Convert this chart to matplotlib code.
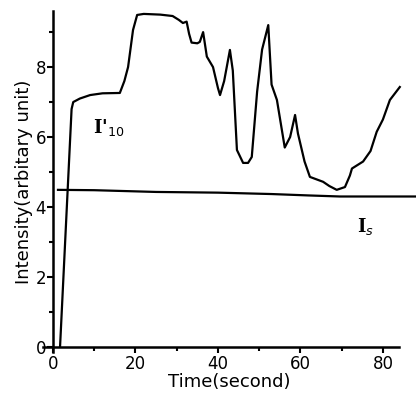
import matplotlib
matplotlib.use("Agg")
import matplotlib.pyplot as plt
from matplotlib.ticker import MultipleLocator

# I'10 curve (time in s, intensity in arbitrary unit)
t_i10 = [1.7, 4.5, 4.9, 6.5, 9.0, 12.0, 16.2, 17.3, 18.2, 19.4, 20.4, 22.0,
         26.0, 29.0, 30.5, 31.5, 32.4, 33.0, 33.6, 35.0, 35.6, 36.4, 37.3, 38.8,
         40.0, 40.5, 41.5, 42.9, 43.6, 44.6, 46.1, 47.3, 48.2, 49.5, 50.7, 52.2,
         53.0, 54.3, 56.2, 57.5, 58.7, 59.4, 61.0, 62.3, 65.5, 67.0, 68.8, 70.8,
         72.0, 72.5, 75.2, 77.0, 78.5, 80.0, 81.7, 84.1]
i10 = [0.0, 6.8, 7.0, 7.1, 7.2, 7.25, 7.26, 7.6, 8.0, 9.06, 9.49, 9.52,
       9.5, 9.46, 9.35, 9.26, 9.3, 8.95, 8.7, 8.68, 8.72, 9.0, 8.3, 8.0,
       7.4, 7.2, 7.6, 8.49, 7.9, 5.63, 5.26, 5.26, 5.43, 7.3, 8.5, 9.2,
       7.5, 7.06, 5.7, 6.0, 6.63, 6.1, 5.3, 4.86, 4.72, 4.6, 4.49, 4.57,
       4.9, 5.1, 5.3, 5.6, 6.15, 6.5, 7.06, 7.43]

# Is line
t_is = [1.2, 10.0, 25.0, 40.0, 53.0, 62.0, 69.6, 80.0, 88.0]
i_s = [4.49, 4.48, 4.43, 4.41, 4.37, 4.33, 4.30, 4.30, 4.30]

fig = plt.figure(figsize=(4.16, 3.97), dpi=100)
ax = fig.add_axes([0.1027, 0.113, 0.897, 0.859])

ax.plot(t_i10, i10, color="black", lw=1.6, clip_on=False)
ax.plot(t_is, i_s, color="black", lw=1.6, clip_on=False)

ax.text(9.7, 6.26, "I'$_{10}$", fontsize=13, fontweight="bold",
        family="DejaVu Serif", va="center", ha="left")
ax.text(73.7, 3.43, "I$_s$", fontsize=13, fontweight="bold",
        family="DejaVu Serif", va="center", ha="left")

ax.set_xlim(-2.5, 88)
ax.set_ylim(-0.15, 9.6)

# axes cross at the origin like the original figure
ax.spines["left"].set_position(("data", 0))
ax.spines["bottom"].set_position(("data", 0))
ax.spines["bottom"].set_bounds(-2.5, 84)
ax.spines["left"].set_bounds(-0.15, 9.6)
ax.spines["right"].set_visible(False)
ax.spines["top"].set_visible(False)
for s in ("left", "bottom"):
    ax.spines[s].set_linewidth(1.8)

ax.xaxis.set_major_locator(MultipleLocator(20))
ax.xaxis.set_minor_locator(MultipleLocator(10))
ax.yaxis.set_major_locator(MultipleLocator(2))
ax.yaxis.set_minor_locator(MultipleLocator(1))
ax.tick_params(which="major", direction="out", length=4, width=1.5, labelsize=12, pad=1)
ax.tick_params(axis="x", which="major", pad=2)
ax.tick_params(which="minor", direction="out", length=3, width=1.5)

ax.set_xlabel("Time(second)", fontsize=13, labelpad=0)
ax.set_ylabel("Intensity(arbitary unit)", fontsize=13, labelpad=2)

fig.savefig("out.png", dpi=100)
